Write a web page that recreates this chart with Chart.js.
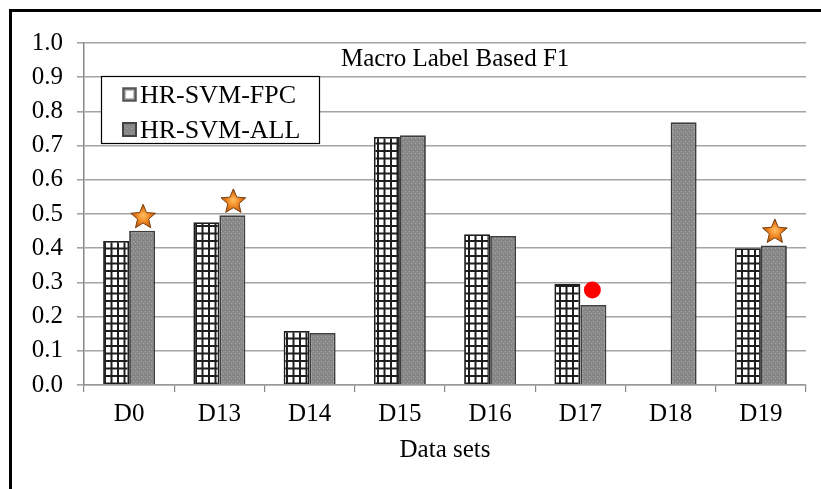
<!DOCTYPE html>
<html><head><meta charset="utf-8">
<script src="https://cdn.jsdelivr.net/npm/chart.js@4.4.1/dist/chart.umd.min.js"></script>
<style>html,body{margin:0;padding:0;background:#fff}#wrap{width:821px;height:489px;position:relative}</style>
</head><body><div id="wrap"><canvas id="c" width="821" height="489"></canvas></div>
<script>
const categories = ['D0','D13','D14','D15','D16','D17','D18','D19'];
const fpcValues = [0.421, 0.476, 0.158, 0.725, 0.441, 0.295, null, 0.400];
const allValues = [0.451, 0.496, 0.152, 0.730, 0.436, 0.234, 0.768, 0.408];
const seriesNames = ['HR-SVM-FPC', 'HR-SVM-ALL'];
const yTicks = [0.0,0.1,0.2,0.3,0.4,0.5,0.6,0.7,0.8,0.9,1.0];
const chartTitle = 'Macro Label Based F1';
const xAxisTitle = 'Data sets';
const starMarks = ['D0','D13','D19'];
const dotMarks = ['D17'];

const FONT = "'Liberation Serif', 'Times New Roman', serif";

function gridPattern(){
  const c = document.createElement('canvas'); c.width = 13; c.height = 15;
  const g = c.getContext('2d');
  g.fillStyle = '#fff'; g.fillRect(0,0,13,15);
  g.fillStyle = '#1e1e1e';
  g.fillRect(0,0,13,2); g.fillRect(0,7.5,13,2);
  g.fillRect(0,0,2,15); g.fillRect(6.5,0,2,15);
  return g.createPattern(c,'repeat');
}
function dotPattern(){
  const c = document.createElement('canvas'); c.width = 4; c.height = 5;
  const g = c.getContext('2d');
  g.fillStyle = '#888'; g.fillRect(0,0,4,5);
  g.fillStyle = '#a6a6a6'; g.fillRect(1,1,1,1); g.fillRect(3,3,1,1);
  g.fillStyle = '#7a7a7a'; g.fillRect(2,0,1,1);
  return g.createPattern(c,'repeat');
}
const fpcFill = gridPattern();
const allFill = dotPattern();

function drawStar(ctx, cx, cy, r){
  const ri = r*0.45;
  ctx.save();
  ctx.beginPath();
  for(let i=0;i<10;i++){
    const rr = i%2===0 ? r : ri;
    const a = -Math.PI/2 + i*Math.PI/5;
    const px = cx + rr*Math.cos(a), py = cy + rr*Math.sin(a);
    if(i===0) ctx.moveTo(px,py); else ctx.lineTo(px,py);
  }
  ctx.closePath();
  const gr = ctx.createRadialGradient(cx, cy-2, 1, cx, cy, r);
  gr.addColorStop(0,'#ffb85a'); gr.addColorStop(0.45,'#ee8420'); gr.addColorStop(1,'#a94e0c');
  ctx.fillStyle = gr; ctx.fill();
  ctx.lineWidth = 1; ctx.strokeStyle = '#7a4010'; ctx.stroke();
  ctx.restore();
}

const decor = {
  id:'decor',
  beforeDraw(chart){
    const ctx = chart.ctx;
    ctx.save(); ctx.fillStyle='#fff'; ctx.fillRect(0,0,chart.width,chart.height); ctx.restore();
  },
  afterDatasetsDraw(chart){
    const ctx = chart.ctx;
    const meta = chart.getDatasetMeta(1);
    starMarks.forEach(cat=>{
      const el = meta.data[categories.indexOf(cat)];
      drawStar(ctx, el.x+1, el.y-13.5, 13);
    });
    dotMarks.forEach(cat=>{
      const el = meta.data[categories.indexOf(cat)];
      ctx.save(); ctx.beginPath(); ctx.arc(el.x-1, el.y-15, 8.5, 0, Math.PI*2);
      ctx.fillStyle = '#ff0000'; ctx.fill(); ctx.restore();
    });
  },
  afterDraw(chart){
    const ctx = chart.ctx, ca = chart.chartArea;
    ctx.save();
    ctx.font = '25px ' + FONT; ctx.fillStyle = '#000';
    ctx.textAlign = 'center'; ctx.textBaseline = 'middle';
    ctx.fillText(chartTitle, ca.left + (ca.right-ca.left)*0.514, ca.top + 16);
    const lx = ca.left + 17, ly = ca.top + 33, lw = 218, lh = 67;
    ctx.fillStyle = '#fff'; ctx.fillRect(lx, ly, lw, lh);
    ctx.strokeStyle = '#000'; ctx.lineWidth = 1.2; ctx.strokeRect(lx+0.5, ly+0.5, lw, lh);
    const rows = [ly+19, ly+54];
    ctx.fillStyle = '#fff'; ctx.fillRect(lx+21, rows[0]-8, 15, 15);
    ctx.strokeStyle = '#555'; ctx.lineWidth = 2.5; ctx.strokeRect(lx+22.5, rows[0]-6.5, 12, 12);
    ctx.strokeStyle = '#bbb'; ctx.lineWidth = 1; ctx.strokeRect(lx+24.5, rows[0]-4.5, 8, 8);
    ctx.fillStyle = allFill; ctx.fillRect(lx+21, rows[1]-8, 15, 15);
    ctx.strokeStyle = '#444'; ctx.lineWidth = 2; ctx.strokeRect(lx+22, rows[1]-7, 13, 13);
    ctx.fillStyle = '#000'; ctx.textAlign = 'left'; ctx.font = '26px ' + FONT;
    ctx.fillText(seriesNames[0], lx+39, rows[0]+1);
    ctx.fillText(seriesNames[1], lx+39, rows[1]+1);
    ctx.fillStyle = '#000';
    ctx.fillRect(9, 9, 3, chart.height);
    ctx.fillRect(9, 9, chart.width, 3);
    ctx.restore();
  }
};

new Chart(document.getElementById('c'), {
  type:'bar',
  data:{
    labels: categories,
    datasets:[
      {label: seriesNames[0], data: fpcValues, backgroundColor: fpcFill, borderColor:'#1e1e1e', borderWidth:1.8,
       categoryPercentage:0.576, barPercentage:1.0},
      {label: seriesNames[1], data: allValues, backgroundColor: allFill, borderColor:'#3e3e3e', borderWidth:1.8,
       categoryPercentage:0.576, barPercentage:1.0}
    ]
  },
  options:{
    responsive:false, animation:false, devicePixelRatio:1,
    layout:{padding:{left:0, right:15, top:43, bottom:0}},
    plugins:{legend:{display:false}, title:{display:false}, tooltip:{enabled:false}},
    scales:{
      x:{
        grid:{drawOnChartArea:false, drawTicks:true, tickLength:7, color:'#888', lineWidth:1.2},
        border:{display:true, color:'#999', width:1.5},
        ticks:{font:{family:FONT, size:25}, color:'#000', padding:7, maxRotation:0},
        title:{display:true, text:xAxisTitle, font:{family:FONT, size:25}, color:'#000', padding:{top:0,bottom:24}},
        afterFit(s){ s.height = 104; }
      },
      y:{
        min:0, max:1,
        afterBuildTicks(s){ s.ticks = yTicks.map(v=>({value:v})); },
        grid:{color:'#a4a4a4', lineWidth:1.6, tickLength:7},
        border:{display:true, color:'#888', width:1.5},
        ticks:{font:{family:FONT, size:25}, color:'#000', padding:14,
               callback:(v)=>Number(v).toFixed(1)},
        afterFit(s){ s.width = 84; }
      }
    }
  },
  plugins:[decor]
});
</script></body></html>
